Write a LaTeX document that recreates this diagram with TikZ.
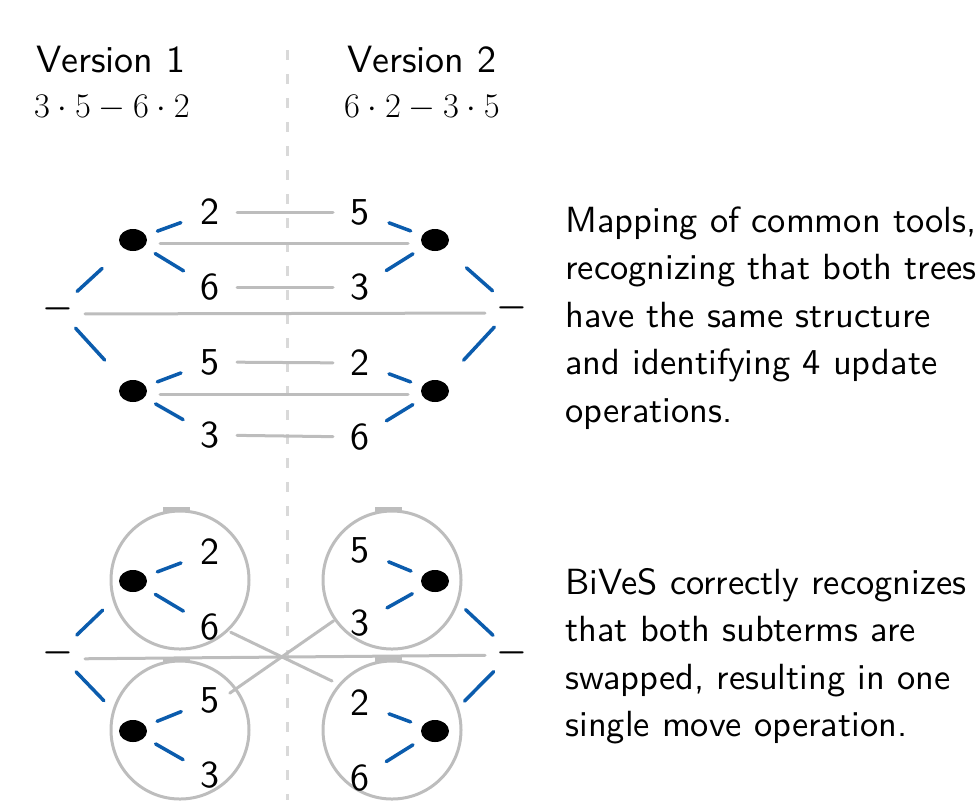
\documentclass[tikz,border=0pt]{standalone}
\usepackage{fontspec}
\usepackage{tikz}
\usetikzlibrary{shapes.geometric,positioning}
\newfontfamily\notefont{lmsans10-regular.otf}
\definecolor{treeblue}{HTML}{0B5CAD}
\definecolor{mapgray}{HTML}{BDBDBD}
\definecolor{splitgray}{HTML}{D9D9D9}

\begin{document}
\begin{tikzpicture}[
x=0.5pt,y=-0.5pt,
font=\sffamily,
dot/.style={ellipse,fill=black,inner sep=0pt,minimum width=14pt,minimum height=11pt},
leaf/.style={inner sep=0pt,font=\notefont\fontsize{19}{22}\selectfont},
op/.style={inner sep=0pt,font=\fontsize{16}{18}\selectfont\boldmath},
twig/.style={draw=treeblue,line width=1.75pt,line cap=round,shorten <=13pt,shorten >=15.5pt},
branch/.style={twig,shorten >=21pt},
mapline/.style={draw=mapgray,line width=1.5pt,line cap=round,shorten <=13.5pt,shorten >=13.5pt},
ring/.style={circle,draw=mapgray,line width=1.5pt,minimum size=69pt,inner sep=0pt},
note/.style={anchor=north west,inner sep=0pt,align=left,font=\notefont\fontsize{18.2}{23.75}\selectfont}]

    \useasboundingbox (0,0) rectangle (978,800);

    % Split between the two versions
    \draw[splitgray,line width=1.5pt,dash pattern=on 5pt off 7pt] (287,50) -- (287,800);

    % Headers
    \node[leaf] (v1) at (111,60) {Version 1};
    \node[leaf] (v2) at (422,60) {Version 2};
    \node[font=\fontsize{17.3}{20}\selectfont] (e1) at (112,108) {$3\cdot5-6\cdot2$};
    \node[font=\fontsize{17.3}{20}\selectfont] (e2) at (422,108) {$6\cdot2-3\cdot5$};

    % Upper picture: mapping of all nodes
    \node[op] (tml) at (58,309) {$-$};
    \node[dot] (tul) at (133,240) {};
    \node[dot] (tll) at (133,391) {};
    \node[leaf] (tul2) at (210,212) {2};
    \node[leaf] (tul6) at (210,287) {6};
    \node[leaf] (tll5) at (210,362) {5};
    \node[leaf] (tll3) at (210,435) {3};

    \node[op] (tmr) at (512,308) {$-$};
    \node[dot] (tur) at (435,240) {};
    \node[dot] (tlr) at (435,391) {};
    \node[leaf] (tur5) at (360,212) {5};
    \node[leaf] (tur3) at (360,287) {3};
    \node[leaf] (tlr2) at (360,363) {2};
    \node[leaf] (tlr6) at (360,437) {6};

    \foreach \a/\b in {tml/tul,tml/tll,tmr/tur,tmr/tlr}
        \draw[branch] (\a.center) -- (\b.center);
    \foreach \a/\b in {tul/tul2,tul/tul6,tll/tll5,tll/tll3,tur/tur5,tur/tur3,tlr/tlr2,tlr/tlr6}
        \draw[twig] (\a.center) -- (\b.center);

    \draw[mapline] (tul2.center) -- (tur5.center);
    \draw[mapline] (tul6.center) -- (tur3.center);
    \draw[mapline] (tll5.center) -- (tlr2.center);
    \draw[mapline] (tll3.center) -- (tlr6.center);
    \draw[mapline] ([yshift=-1.5pt]tul.center) -- ([yshift=-1.5pt]tur.center);
    \draw[mapline] ([yshift=-1.5pt]tll.center) -- ([yshift=-1.5pt]tlr.center);
    \draw[mapline] ([yshift=-2.5pt]tml.center) -- ([yshift=-2.5pt]tmr.center);

    \node[note] (note1) at (565,206) {Mapping of common tools,\\recognizing that both trees\\have the same structure\\and identifying 4 update\\operations.};

    % Lower picture: subterms moved as a whole
    \node[ring] (bul) at (180,580) {};
    \node[ring] (bll) at (180,730) {};
    \node[ring] (bur) at (392,580) {};
    \node[ring] (blr) at (392,730) {};
    \foreach \r in {bul,bll,bur,blr}
        \draw[mapgray,line width=2.5pt] ([xshift=-8.5pt]\r.north) -- ([xshift=5pt]\r.north);

    \node[op] (bml) at (58,653) {$-$};
    \node[dot] (bul0) at (133,581) {};
    \node[dot] (bll0) at (133,731) {};
    \node[leaf] (bul2) at (210,552) {2};
    \node[leaf] (bul6) at (210,627) {6};
    \node[leaf] (bll5) at (210,700) {5};
    \node[leaf] (bll3) at (210,775) {3};

    \node[op] (bmr) at (512,653) {$-$};
    \node[dot] (bur0) at (435,581) {};
    \node[dot] (blr0) at (435,731) {};
    \node[leaf] (bur5) at (360,550) {5};
    \node[leaf] (bur3) at (360,623) {3};
    \node[leaf] (blr2) at (360,703) {2};
    \node[leaf] (blr6) at (360,778) {6};

    \foreach \a/\b in {bml/bul0,bml/bll0,bmr/bur0,bmr/blr0}
        \draw[branch] (\a.center) -- (\b.center);
    \foreach \a/\b in {bul0/bul2,bul0/bul6,bll0/bll5,bll0/bll3,bur0/bur5,bur0/bur3,blr0/blr2,blr0/blr6}
        \draw[twig] (\a.center) -- (\b.center);

    \draw[mapline] ([yshift=-3pt]bml.center) -- ([yshift=-1pt]bmr.center);
    \draw[mapline,shorten <=6pt,shorten >=10pt] (bul6.east) -- (blr2.north west);
    \draw[mapline,shorten <=10pt,shorten >=6pt] (bur3.north west) -- (bll5.east);

    \node[note] (note2) at (565,568) {BiVeS correctly recognizes\\that both subterms are\\swapped, resulting in one\\single move operation.};
\end{tikzpicture}
\end{document}
